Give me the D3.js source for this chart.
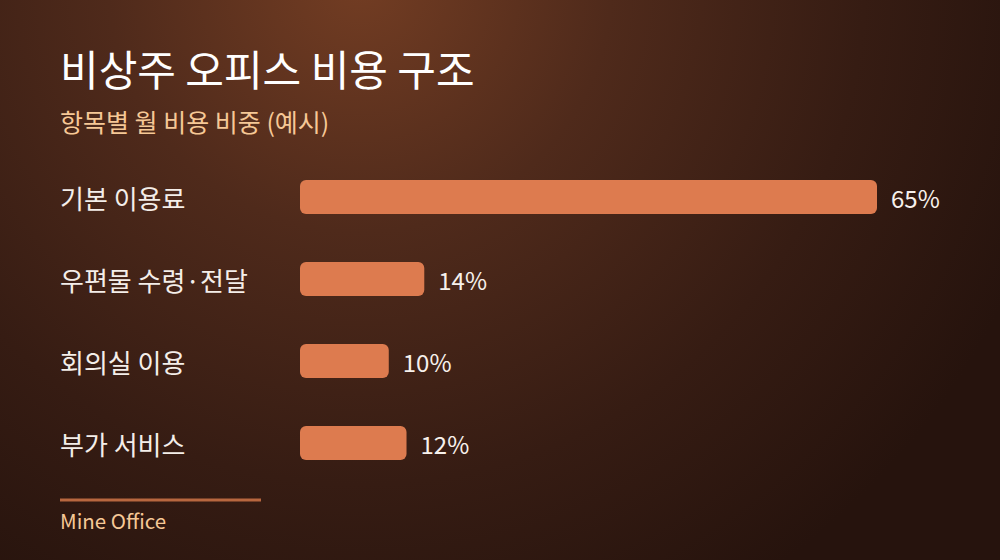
<!DOCTYPE html>
<html><head><meta charset="utf-8">
<script src="https://cdn.jsdelivr.net/npm/d3@7"></script>
<style>
html,body{margin:0;padding:0;background:#2a160f;}
svg{display:block;font-family:"Noto Sans CJK KR","Noto Sans",sans-serif;}
</style></head>
<body>
<svg id="chart" width="1000" height="560"></svg>
<script>
const categories = ["기본 이용료", "우편물 수령·전달", "회의실 이용", "부가 서비스"];
const values = [65, 14, 10, 12];
const valueLabels = ["65%", "14%", "10%", "12%"];
const title = "비상주 오피스 비용 구조";
const subtitle = "항목별 월 비용 비중 (예시)";
const footer = "Mine Office";

const svg = d3.select("#chart");
const defs = svg.append("defs");
const grad = defs.append("radialGradient").attr("id","bg")
  .attr("gradientUnits","userSpaceOnUse")
  .attr("cx",360).attr("cy",-20).attr("r",720);
grad.append("stop").attr("offset","0%").attr("stop-color","#733d23");
grad.append("stop").attr("offset","35%").attr("stop-color","#4f2a1b");
grad.append("stop").attr("offset","70%").attr("stop-color","#361c13");
grad.append("stop").attr("offset","100%").attr("stop-color","#26130d");
svg.append("rect").attr("width",1000).attr("height",560).attr("fill","url(#bg)");

svg.append("text").attr("x",60).attr("y",86).text(title)
  .attr("fill","#ffffff").attr("font-size",42).attr("font-weight",400);
svg.append("text").attr("x",60).attr("y",132).text(subtitle)
  .attr("fill","#f6c896").attr("font-size",25).attr("font-weight",400);

const x = d3.scaleLinear().domain([0,65]).range([300,877]);
const y = d3.scaleBand().domain(categories).range([180,460]).paddingInner(48/82).paddingOuter(0);

const g = svg.append("g");
const rows = g.selectAll("g.row").data(categories.map((c,i)=>({c,v:values[i],l:valueLabels[i]})))
  .join("g").attr("class","row");

rows.append("rect")
  .attr("x",x(0)).attr("y",d=>y(d.c))
  .attr("width",d=>x(d.v)-x(0)).attr("height",y.bandwidth())
  .attr("rx",6).attr("ry",6).attr("fill","#dd7b4f");

rows.append("text").attr("x",60).attr("y",d=>y(d.c)+y.bandwidth()/2)
  .attr("dominant-baseline","central").attr("fill","#f4eee9")
  .attr("font-size",26).text(d=>d.c);

rows.append("text").attr("x",d=>x(d.v)+14).attr("y",d=>y(d.c)+y.bandwidth()/2)
  .attr("dominant-baseline","central").attr("fill","#f7f1ec")
  .attr("font-size",24).text(d=>d.l);

svg.append("line").attr("x1",60).attr("x2",261).attr("y1",500).attr("y2",500)
  .attr("stroke","#b8673f").attr("stroke-width",3);
svg.append("text").attr("x",60).attr("y",529).text(footer)
  .attr("fill","#f6c896").attr("font-size",20.5);
</script>
</body></html>
